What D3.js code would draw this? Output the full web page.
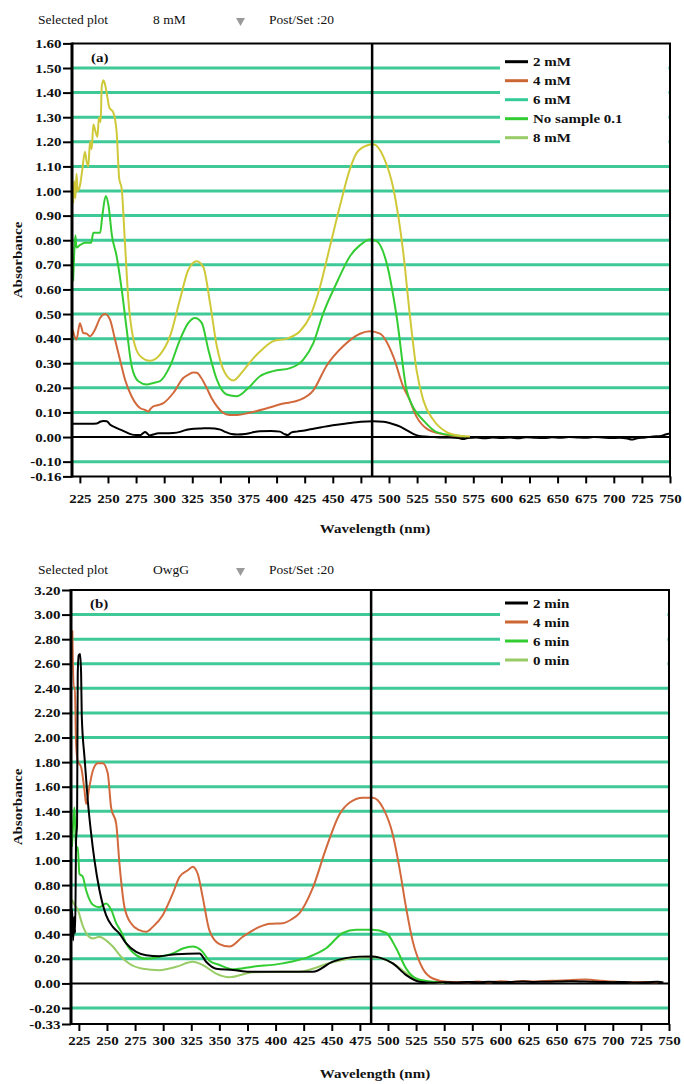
<!DOCTYPE html>
<html><head><meta charset="utf-8">
<script src="https://cdn.jsdelivr.net/npm/d3@7"></script>
<style>
body{margin:0;background:#fff}
svg{display:block}
</style></head><body>
<svg id="c" width="684" height="1084"></svg>
<script>
// ---------- tick labels ----------
const xTicks = [225,250,275,300,325,350,375,400,425,450,475,500,525,550,575,600,625,650,675,700,725,750];
const yTicksA = [-0.16,-0.10,0.00,0.10,0.20,0.30,0.40,0.50,0.60,0.70,0.80,0.90,1.00,1.10,1.20,1.30,1.40,1.50,1.60];
const gridA = [-0.10,0.10,0.20,0.30,0.40,0.50,0.60,0.70,0.80,0.90,1.00,1.10,1.20,1.30,1.40,1.50];
const yTicksB = [-0.33,-0.20,0.00,0.20,0.40,0.60,0.80,1.00,1.20,1.40,1.60,1.80,2.00,2.20,2.40,2.60,2.80,3.00,3.20];
const gridB = [-0.20,0.20,0.40,0.60,0.80,1.00,1.20,1.40,1.60,1.80,2.00,2.20,2.40,2.60,2.80,3.00];
const cursorWl = 485;

// ---------- panel (a) ----------
const legendA = ["2 mM","4 mM","6 mM","No sample 0.1","8 mM"];
const a2mM_wl = [218,225,235,240,243,246,249,252,256,261,266,270,275,279,281,283,285,287,290,295,300,308,315,320,327,333,340,345,350,355,360,365,372,378,385,395,403,407,410,413,418,425,433,440,450,462,475,486,495,504,510,516,522,527,532,540,548,555,562,566,570,578,585,592,600,608,615,622,630,638,645,652,660,668,675,682,690,698,705,712,716,720,728,735,742,746,750];
const a2mM_abs = [0.054,0.054,0.054,0.055,0.062,0.065,0.064,0.05,0.04,0.03,0.02,0.012,0.008,0.008,0.015,0.02,0.014,0.006,0.01,0.015,0.015,0.016,0.022,0.03,0.034,0.035,0.036,0.035,0.03,0.02,0.012,0.01,0.012,0.018,0.024,0.025,0.022,0.012,0.008,0.018,0.022,0.027,0.034,0.04,0.048,0.055,0.062,0.064,0.062,0.052,0.042,0.027,0.012,0.004,0.002,0.0,-0.002,-0.002,-0.004,-0.008,-0.004,-0.002,-0.005,-0.002,-0.004,-0.002,-0.005,-0.001,-0.003,-0.004,-0.001,-0.003,0.0,-0.002,-0.003,0.0,-0.002,-0.004,-0.003,-0.006,-0.01,-0.006,-0.002,0.002,0.004,0.01,0.014];
const a4mM_wl = [218.6,222,225,228,231,234,238.4,243,247.4,251.8,256.3,260.7,265.2,271.1,278.5,283,285.9,288,290.4,295,299.3,308.1,317,322,326,329,333,337.8,342,347,352,358,365,375,390,405,420,432.7,444.5,459.4,474.2,483.1,492,503.9,512.7,517.2,524.6,533.5,545.4,555,565];
const a4mM_abs = [0.436,0.396,0.463,0.423,0.42,0.41,0.436,0.484,0.50,0.477,0.396,0.314,0.233,0.165,0.118,0.11,0.104,0.115,0.125,0.13,0.138,0.179,0.24,0.255,0.262,0.261,0.24,0.20,0.16,0.125,0.10,0.09,0.09,0.098,0.115,0.135,0.15,0.19,0.29,0.37,0.42,0.43,0.42,0.327,0.204,0.163,0.082,0.034,0.014,0.006,0.002];
const aNoS_wl = [219,220,221,222,225,229.5,235,237,243,245,248,250.5,253.5,257.7,262.2,266.6,271,277,284.5,290.4,296.3,305.2,314.1,321.5,327.4,333.4,339.3,346.8,355.6,364.5,373.4,385.2,397.1,412,423.8,432.7,441.6,453.5,465.3,474.2,483.1,489,497.9,506.8,515.7,521.6,530.5,542.4,557.3,568];
const aNoS_abs = [0.633,0.75,0.82,0.77,0.78,0.79,0.79,0.83,0.83,0.90,0.98,0.94,0.82,0.735,0.60,0.44,0.29,0.227,0.214,0.22,0.227,0.288,0.396,0.464,0.484,0.464,0.355,0.234,0.173,0.166,0.193,0.247,0.268,0.28,0.315,0.382,0.504,0.627,0.735,0.78,0.803,0.796,0.707,0.49,0.19,0.12,0.068,0.02,0.007,0.002];
const a8mM_wl = [219,220,221,222,223,225,227,229.5,231,232.5,234,235.5,237,239,240.6,242,243.5,244.4,245.9,247,248.8,251.2,254.7,257.7,260,262.2,265.1,268.1,272.5,278.5,287.4,296.3,305.2,314.1,321.5,329,334.9,340.8,346.8,354.1,361.5,370.4,379.3,388.2,397.1,409,420.8,429.7,438.6,447.5,456.4,465.3,471.3,480.2,486.1,495,503.9,512.7,518.7,524.6,530.5,539.4,551.3,563.2,572];
const a8mM_abs = [0.95,1.04,0.97,1.07,1.0,1.02,1.08,1.16,1.12,1.10,1.20,1.17,1.27,1.24,1.22,1.30,1.28,1.42,1.45,1.44,1.40,1.34,1.32,1.24,1.05,1.01,0.79,0.56,0.40,0.33,0.31,0.335,0.41,0.56,0.68,0.715,0.69,0.545,0.37,0.26,0.23,0.27,0.32,0.36,0.39,0.40,0.43,0.49,0.61,0.775,0.94,1.09,1.155,1.185,1.19,1.14,1.01,0.75,0.49,0.27,0.15,0.07,0.02,0.005,0.002];

// ---------- panel (b) ----------
const legendB = ["2 min","4 min","6 min","0 min"];
const b2min_wl = [218.2,219,219.9,220.8,221.7,222.5,223.4,224,224.9,226.1,227,227.6,230,232.9,235.9,238.9,243.3,249.2,255.2,261.1,267.1,276,284.9,296.7,311.5,332.3,338.2,347.1,362,376.8,400,433.1,450.9,474.7,486,492.5,504.3,516.2,528,540,550,560,570,580,590,600,610,620,630,640,650,660,670,680,690,700,710,720,730,740,745];
const b2min_abs = [0.38,0.60,0.35,0.54,0.41,1.16,1.30,2.52,2.67,2.68,2.52,2.17,1.84,1.49,1.22,1.00,0.76,0.555,0.46,0.406,0.325,0.257,0.23,0.222,0.238,0.244,0.176,0.12,0.11,0.095,0.095,0.095,0.177,0.218,0.22,0.21,0.163,0.068,0.014,0.005,0.01,0.008,0.012,0.01,0.013,0.01,0.012,0.015,0.012,0.014,0.015,0.018,0.016,0.014,0.012,0.01,0.012,0.008,0.01,0.014,0.008];
const b4min_wl = [219.2,220.4,221.5,222.4,224,227,230,231.5,234.4,237.4,241.8,246.3,250.7,253.7,258.2,261.1,265.6,271.5,278.9,284.9,290.8,299.6,308.5,314.5,321.9,326.3,330.8,335.2,341.2,350.1,359,370.8,385.7,395,406.4,414,421.3,433.1,445,456.9,465.7,477.6,486.5,495.4,504.3,510.2,516.2,522.1,531,539.9,551.8,560,570,580,590,600,610,620,630,640,650,660,668,675,682,690,700,710,720,730,740];
const b4min_abs = [2.87,2.41,2.41,1.98,1.81,1.76,1.57,1.46,1.60,1.73,1.79,1.79,1.71,1.43,1.30,0.975,0.62,0.487,0.433,0.42,0.46,0.555,0.73,0.866,0.92,0.95,0.89,0.70,0.43,0.32,0.30,0.38,0.46,0.485,0.49,0.52,0.572,0.777,1.10,1.376,1.47,1.51,1.51,1.43,1.21,0.94,0.61,0.34,0.12,0.04,0.014,0.012,0.01,0.015,0.01,0.018,0.012,0.02,0.015,0.02,0.022,0.026,0.03,0.032,0.028,0.022,0.015,0.012,0.01,0.012,0.01];
const b6min_wl = [218.8,219.9,221.1,222.5,224,225.5,228.4,231.4,237.4,243.3,249.2,253.7,258.2,262.6,267.1,276,284.9,296.7,308.5,317.4,326.3,333.7,341.2,350.1,362,379.8,406.4,430.1,445,459.8,471.7,486.5,498.4,507.3,516.2,525.1,539.9,555];
const b6min_abs = [1.11,1.30,1.43,1.08,1.11,0.89,0.87,0.76,0.64,0.62,0.65,0.60,0.49,0.42,0.325,0.23,0.20,0.217,0.244,0.284,0.30,0.27,0.185,0.15,0.115,0.136,0.163,0.218,0.286,0.41,0.436,0.436,0.41,0.286,0.12,0.04,0.014,0.01];
const b0min_wl = [218.8,221.1,224,228.4,232.9,237.4,243.3,249.2,255.2,262.6,270,281.9,296.7,311.5,326.3,335.2,347.1,359,379.8,406.4,420,450,475,490,505,520,535,550];
const b0min_abs = [0.68,0.64,0.60,0.47,0.39,0.366,0.38,0.35,0.30,0.217,0.16,0.12,0.108,0.135,0.176,0.15,0.08,0.05,0.09,0.095,0.095,0.17,0.21,0.21,0.16,0.06,0.01,0.005];

// ---------- drawing ----------
const svg = d3.select("#c");
const GRID = "#3ec997";
const FONT = "'Liberation Serif','Times New Roman',serif";
const SX = 1.2;

function panel(cfg){
  const g = svg.append("g");
  const x = d3.scaleLinear().domain([218,750]).range([cfg.left,cfg.right]);
  const y = d3.scaleLinear().domain(cfg.yDomain).range([cfg.bottom,cfg.top]);

  // header
  const hy = cfg.headerY;
  g.append("text").attr("x",38).attr("y",hy).text("Selected plot")
    .attr("font-family",FONT).attr("font-size",13.5).attr("fill","#111");
  g.append("text").attr("x",153).attr("y",hy).text(cfg.selected)
    .attr("font-family",FONT).attr("font-size",13.5).attr("fill","#111");
  g.append("path").attr("d",`M236,${hy-6}L245,${hy-6}L240.5,${hy+2}Z`).attr("fill","#9a9a9a");
  g.append("text").attr("x",269).attr("y",hy).text("Post/Set  :20")
    .attr("font-family",FONT).attr("font-size",13.5).attr("fill","#111");

  const defs = g.append("defs");
  defs.append("clipPath").attr("id","clip"+cfg.id).append("rect")
    .attr("x",cfg.left).attr("y",cfg.top).attr("width",cfg.right-cfg.left).attr("height",cfg.bottom-cfg.top);

  // grid
  g.append("g").selectAll("line").data(cfg.grid).join("line")
    .attr("x1",cfg.left).attr("x2",cfg.right).attr("y1",d=>y(d)).attr("y2",d=>y(d))
    .attr("stroke",GRID).attr("stroke-width",3);
  // legend background
  g.append("rect").attr("x",500).attr("y",cfg.top+1.5).attr("width",cfg.right-501.5)
    .attr("height",cfg.legendH).attr("fill","#fff");
  // zero line
  g.append("line").attr("x1",cfg.left).attr("x2",cfg.right).attr("y1",y(0)).attr("y2",y(0))
    .attr("stroke","#000").attr("stroke-width",2);

  // series
  const line = d3.line().x(d=>x(d[0])).y(d=>y(d[1])).curve(d3.curveMonotoneX);
  const sg = g.append("g").attr("clip-path",`url(#clip${cfg.id})`);
  cfg.series.forEach(s=>{
    sg.append("path").attr("d",line(d3.zip(s.wl,s.v))).attr("fill","none")
      .attr("stroke",s.color).attr("stroke-width",2).attr("stroke-linejoin","round");
  });

  // cursor
  g.append("line").attr("x1",x(cursorWl)).attr("x2",x(cursorWl)).attr("y1",cfg.top).attr("y2",cfg.bottom)
    .attr("stroke","#000").attr("stroke-width",2.5);

  // frame
  g.append("path").attr("d",`M${cfg.left},${cfg.top}H${cfg.right}V${cfg.bottom}H${cfg.left}`)
    .attr("fill","none").attr("stroke","#000").attr("stroke-width",2);
  g.append("line").attr("x1",cfg.left).attr("x2",cfg.left).attr("y1",cfg.top-1).attr("y2",cfg.bottom+1)
    .attr("stroke","#000").attr("stroke-width",3);

  // y axis
  const ya = g.append("g").attr("transform",`translate(${cfg.left},0)`)
    .call(d3.axisLeft(y).tickValues(cfg.yTicks).tickSize(9).tickFormat(v=>v.toFixed(2)));
  ya.select(".domain").remove();
  ya.selectAll(".tick line").attr("stroke","#000").attr("stroke-width",2);
  ya.selectAll(".tick text").attr("x",-10.5/SX).attr("transform",`scale(${SX},1)`)
    .attr("font-family",FONT).attr("font-size",12.5).attr("font-weight","bold").attr("fill","#111");

  // x axis
  const xa = g.append("g").attr("transform",`translate(0,${cfg.bottom})`)
    .call(d3.axisBottom(x).tickValues(xTicks).tickSize(7).tickFormat(d=>d));
  xa.select(".domain").remove();
  xa.selectAll(".tick line").attr("stroke","#000").attr("stroke-width",2);
  xa.selectAll(".tick text").attr("y",cfg.xLabelY).attr("dy",0).attr("transform",`scale(${SX},1)`)
    .attr("font-family",FONT).attr("font-size",12.5).attr("font-weight","bold").attr("fill","#111");

  // titles
  g.append("text").attr("transform",`translate(375,${cfg.bottom+cfg.xTitleY}) scale(${SX},1)`)
    .attr("text-anchor","middle").text("Wavelength (nm)")
    .attr("font-family",FONT).attr("font-size",12.5).attr("font-weight","bold").attr("fill","#111");
  g.append("text").attr("transform",`translate(22,${(cfg.top+cfg.bottom)/2}) rotate(-90) scale(${SX},1)`)
    .attr("text-anchor","middle").text("Absorbance")
    .attr("font-family",FONT).attr("font-size",12.5).attr("font-weight","bold").attr("fill","#111");
  g.append("text").attr("transform",`translate(${cfg.left+19},${cfg.top+cfg.tagDy}) scale(${SX},1)`)
    .text(cfg.tag).attr("font-family",FONT).attr("font-size",12.5).attr("font-weight","bold").attr("fill","#111");

  // legend
  const lg = g.append("g");
  cfg.legend.forEach((name,i)=>{
    const ly = cfg.legendY + i*19;
    lg.append("line").attr("x1",505).attr("x2",528).attr("y1",ly).attr("y2",ly)
      .attr("stroke",cfg.legendColors[i]).attr("stroke-width",3);
    lg.append("text").attr("transform",`translate(533,${ly+4.5}) scale(${SX},1)`).text(name)
      .attr("font-family",FONT).attr("font-size",12.5).attr("font-weight","bold").attr("fill","#111");
  });
}

panel({
  id:"A", left:72, right:670, top:43.4, bottom:476.4, yDomain:[-0.16,1.60],
  yTicks:yTicksA, grid:gridA, headerY:24, selected:"8 mM", tag:"(a)", tagDy:19,
  xLabelY:26.5, xTitleY:57, legendY:61.7, legendH:108,
  legend:legendA, legendColors:["#000000","#cc6633","#33cc99","#33cc33","#99cc66"],
  series:[
    {wl:a2mM_wl, v:a2mM_abs, color:"#000000"},
    {wl:a4mM_wl, v:a4mM_abs, color:"#d2693c"},
    {wl:aNoS_wl, v:aNoS_abs, color:"#33cc33"},
    {wl:a8mM_wl, v:a8mM_abs, color:"#cfc93a"}
  ]
});
panel({
  id:"B", left:71, right:669, top:590, bottom:1024, yDomain:[-0.33,3.20],
  yTicks:yTicksB, grid:gridB, headerY:574, selected:"OwgG", tag:"(b)", tagDy:18,
  xLabelY:21, xTitleY:54, legendY:603, legendH:78,
  legend:legendB, legendColors:["#000000","#cc6633","#33cc33","#99cc66"],
  series:[
    {wl:b0min_wl, v:b0min_abs, color:"#99cc66"},
    {wl:b6min_wl, v:b6min_abs, color:"#33cc33"},
    {wl:b4min_wl, v:b4min_abs, color:"#d2693c"},
    {wl:b2min_wl, v:b2min_abs, color:"#000000"}
  ]
});
</script>
</body></html>
